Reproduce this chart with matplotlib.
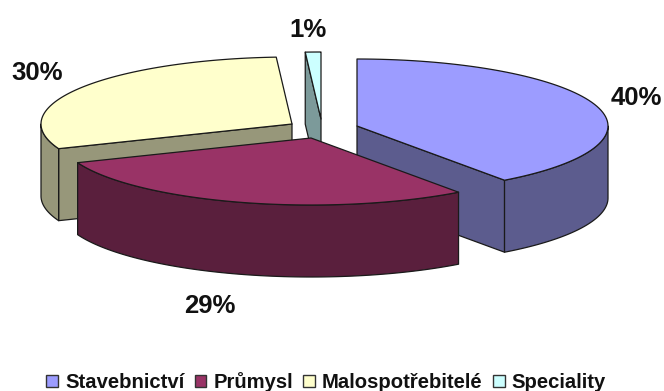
import numpy as np
import matplotlib
matplotlib.use('Agg')
import matplotlib.pyplot as plt
from matplotlib.patches import Patch

plt.rcParams['font.family'] = ['Liberation Sans', 'DejaVu Sans']

# Data
categories = ['Stavebnictví', 'Průmysl', 'Malospotřebitelé', 'Speciality']
shares = [40, 29, 30, 1]
top_colors = ['#9C9CFF', '#993366', '#FFFFCC', '#CCFFFF']
side_colors = ['#5C5C8E', '#5A1F3D', '#97977A', '#7C9A9A']

# Pie geometry in pixels
rx, ry = 251, 67
depth = 72
centers = [(357, 126), (311, 138), (292, 124), (321, 119)]
label_pos = [(636, 98), (210, 306), (37, 73), (308, 30)]
draw_order = [3, 2, 0, 1]
edge = dict(edgecolor='#1a1a1a', linewidth=0.9, joinstyle='round')


def arc(cx, cy, a0, a1, n=80):
    a = np.radians(np.linspace(a0, a1, n))
    return cx + rx * np.sin(a), cy - ry * np.cos(a)


fig = plt.figure(figsize=(6.64, 3.91), dpi=100)
ax = fig.add_axes([0, 0, 1, 1])
ax.set_xlim(0, 664)
ax.set_ylim(391, 0)
ax.axis('off')

# Slice angles run clockwise from twelve o'clock
ends = np.cumsum(shares) * 3.6
starts = ends - np.array(shares) * 3.6

for i in draw_order:
    cx, cy = centers[i]
    a0, a1 = starts[i], ends[i]
    side, top = side_colors[i], top_colors[i]

    # Flat cut faces, only the ones turned toward the viewer
    for a, visible in ((a0, a0 > 180), (a1, a1 < 180)):
        if visible:
            ex, ey = arc(cx, cy, a, a, 1)
            ax.fill([cx, ex[0], ex[0], cx], [cy, ey[0], ey[0] + depth, cy + depth],
                    facecolor=side, **edge)

    # Outer rim between 90 and 270 degrees
    r0, r1 = max(a0, 90), min(a1, 270)
    if r0 < r1:
        x, y = arc(cx, cy, r0, r1)
        ax.fill(np.r_[x, x[::-1]], np.r_[y, y[::-1] + depth], facecolor=side, **edge)

    # Top face
    x, y = arc(cx, cy, a0, a1)
    ax.fill(np.r_[cx, x], np.r_[cy, y], facecolor=top, **edge)

for share, (lx, ly) in zip(shares, label_pos):
    ax.text(lx, ly, f'{share}%', fontsize=18.5, fontweight='bold', color='#111111',
            ha='center', va='center')

handles = [Patch(facecolor=c, edgecolor='#333333', linewidth=1.0) for c in top_colors]
ax.legend(handles, categories, loc='center', bbox_to_anchor=(326 / 664, 1 - 382 / 391),
          ncol=4, frameon=False, handlelength=0.58, handleheight=0.58,
          handletextpad=0.35, columnspacing=0.5, labelcolor='#111111', borderpad=0,
          prop={'weight': 'bold', 'size': 14.6})

fig.savefig('out.png', dpi=100)
